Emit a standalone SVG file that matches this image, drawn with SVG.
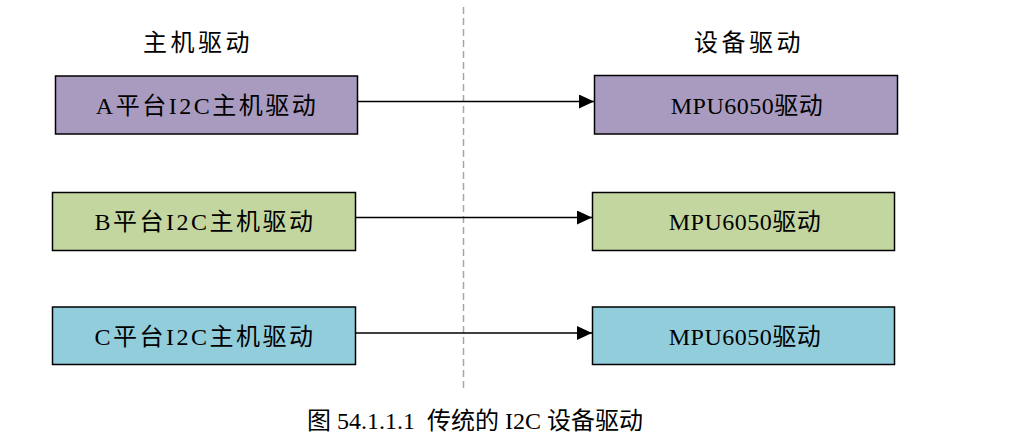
<svg xmlns="http://www.w3.org/2000/svg" width="1014" height="438" viewBox="0 0 1014 438">
<style>
text{font-family:"Liberation Serif","Noto Sans CJK SC",serif;fill:#000;text-anchor:middle}
.box{stroke:#000;stroke-width:1.5}
.lbl{font-size:24px;letter-spacing:2.5px}
.dev{font-size:24px;letter-spacing:0.5px}
.hdr{font-size:24px;letter-spacing:3.5px}
.cap{font-size:24px}
.pur{fill:#A99BBF}.grn{fill:#C4D6A0}.blu{fill:#92CDDC}
.conn{stroke:#000;stroke-width:1.5;fill:none}
</style>
<defs>
<marker id="arr" markerWidth="15" markerHeight="14" refX="15" refY="7" orient="auto" markerUnits="userSpaceOnUse" viewBox="0 0 15 14">
<path d="M0,0 L15,7 L0,14 z" fill="#000"/>
</marker>
</defs>
<rect width="1014" height="438" fill="#fff"/>
<line x1="463.5" y1="7" x2="463.5" y2="392" stroke="#a6a6a6" stroke-width="1.5" stroke-dasharray="7,4"/>
<text class="hdr" x="198" y="51">主机驱动</text>
<text class="hdr" x="749" y="51">设备驱动</text>
<g id="connectors">
<line class="conn" x1="357" y1="101.5" x2="594" y2="101.5" marker-end="url(#arr)"/>
<line class="conn" x1="355" y1="217.5" x2="592" y2="217.5" marker-end="url(#arr)"/>
<line class="conn" x1="355" y1="333" x2="592" y2="333" marker-end="url(#arr)"/>
</g>
<g id="hostA"><rect class="box pur" x="55.5" y="76" width="302" height="58"/><text class="lbl" x="207" y="114">A平台I2C主机驱动</text></g>
<g id="devA"><rect class="box pur" x="594.5" y="75.5" width="303" height="58.5"/><text class="dev" x="747" y="114">MPU6050驱动</text></g>
<g id="hostB"><rect class="box grn" x="52.5" y="192.5" width="303" height="58"/><text class="lbl" x="205" y="230">B平台I2C主机驱动</text></g>
<g id="devB"><rect class="box grn" x="592.5" y="192.5" width="302" height="58"/><text class="dev" x="745" y="230">MPU6050驱动</text></g>
<g id="hostC"><rect class="box blu" x="52.5" y="307" width="303" height="57.5"/><text class="lbl" x="205" y="345">C平台I2C主机驱动</text></g>
<g id="devC"><rect class="box blu" x="592.5" y="307" width="302" height="57.5"/><text class="dev" x="745" y="345">MPU6050驱动</text></g>
<text class="cap" x="475" y="429" xml:space="preserve">图 54.1.1.1  传统的 I2C 设备驱动</text>
</svg>
